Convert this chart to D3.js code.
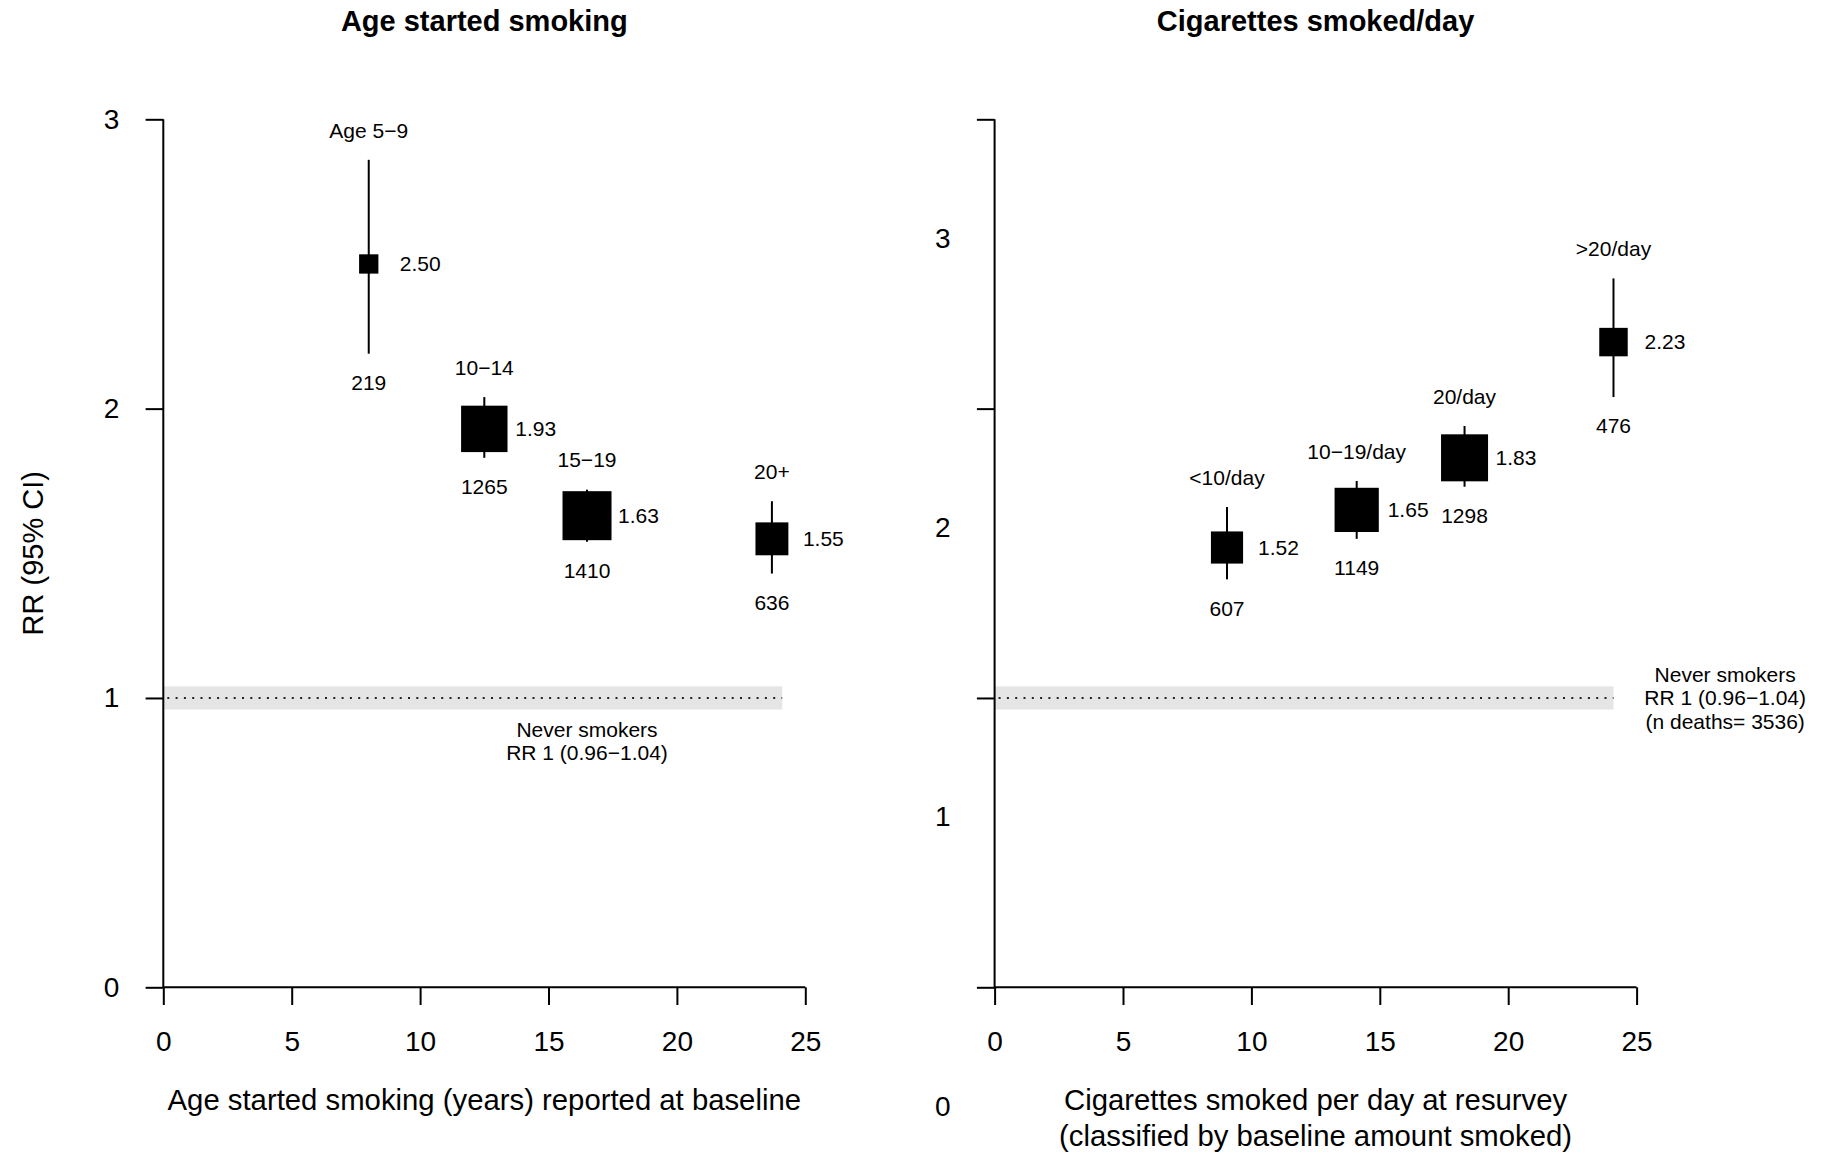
<!DOCTYPE html>
<html>
<head>
<meta charset="utf-8">
<script src="https://cdn.jsdelivr.net/npm/d3@7"></script>
<style>
  html, body { margin: 0; padding: 0; background: #fff; }
  svg { display: block; font-family: "Liberation Sans", Arial, Helvetica, sans-serif; }
</style>
</head>
<body>
<svg id="chart" width="1822" height="1154"></svg>
<script>
// Age started smoking (reported at baseline)
const ageGroups = ["Age 5−9", "10−14", "15−19", "20+"];
const ageX      = [8, 12.5, 16.5, 23.7];
const ageRR     = [2.50, 1.93, 1.63, 1.55];
const ageLo     = [2.19, 1.83, 1.54, 1.43];
const ageHi     = [2.86, 2.04, 1.72, 1.68];
const ageDeaths = [219, 1265, 1410, 636];

// Cigarettes smoked per day at resurvey
const cigGroups = ["<10/day", "10−19/day", "20/day", ">20/day"];
const cigX      = [9.05, 14.1, 18.3, 24.1];
const cigRR     = [1.52, 1.65, 1.83, 2.23];
const cigLo     = [1.41, 1.55, 1.73, 2.04];
const cigHi     = [1.66, 1.75, 1.94, 2.45];
const cigDeaths = [607, 1149, 1298, 476];

// Never-smoker reference group
const neverRR = 1, neverLo = 0.96, neverHi = 1.04, neverDeaths = 3536;
const neverXEnd = 24.1;

// Axes
const xTicks = [0, 5, 10, 15, 20, 25];
const yTicks = [0, 1, 2, 3];

const svg = d3.select("#chart");
const fmt2 = d3.format(".2f");

const plotTop = 119.3, plotBottom = 987.3, plotW = 642;
const y = d3.scaleLinear().domain([0, 3]).range([plotBottom, plotTop]);
const boxSize = d3.scaleSqrt().domain([0, 1410]).range([0, 49]);

function panel(opts) {
  const x = d3.scaleLinear().domain([0, 25]).range([opts.left, opts.left + plotW]);
  const g = svg.append("g");

  // title
  g.append("text")
    .attr("x", x(12.5)).attr("y", 21).attr("dy", "0.35em")
    .attr("text-anchor", "middle")
    .style("font-size", "29px").style("font-weight", "bold")
    .text(opts.title);

  // reference band for never smokers
  g.append("rect")
    .attr("x", x(0)).attr("width", x(neverXEnd) - x(0))
    .attr("y", y(neverHi)).attr("height", y(neverLo) - y(neverHi))
    .attr("fill", "#e5e5e5");
  g.append("line")
    .attr("x1", x(0) + 4).attr("x2", x(neverXEnd))
    .attr("y1", y(neverRR)).attr("y2", y(neverRR))
    .attr("stroke", "#222").attr("stroke-width", 2)
    .attr("stroke-dasharray", "2 6.3");

  // y axis: tick marks
  const yAxisG = g.append("g").attr("transform", `translate(${x(0)},0)`);
  yAxisG.call(d3.axisLeft(y).tickValues(yTicks).tickSize(17.7).tickFormat(""));
  // y axis tick labels (optionally shifted)
  const yLab = g.append("g").attr("transform", `translate(${x(0)},${opts.yLabelShift})`);
  yLab.call(d3.axisLeft(y).tickValues(yTicks).tickSize(0).tickPadding(44).tickFormat(d3.format("d")));
  yLab.select(".domain").remove();

  // x axis
  const xAxisG = g.append("g").attr("transform", `translate(0,${plotBottom})`);
  xAxisG.call(d3.axisBottom(x).tickValues(xTicks).tickSize(17.7).tickPadding(26).tickFormat(d3.format("d")));

  [yAxisG, yLab, xAxisG].forEach(a => {
    a.selectAll("path.domain").attr("stroke", "#000").attr("stroke-width", 2);
    a.selectAll(".tick line").attr("stroke", "#000").attr("stroke-width", 2);
    a.selectAll(".tick text").style("font-size", "28px").attr("fill", "#000")
      .style("font-family", "'Liberation Sans', Arial, Helvetica, sans-serif");
  });
  // clean outer tick stubs on the domains
  yAxisG.select(".domain").attr("d", `M0,${y(3)}V${y(0)}`);
  xAxisG.select(".domain").attr("d", `M${x(0)},0H${x(25)}`);

  // x axis title
  opts.xTitle.forEach((t, i) => {
    g.append("text")
      .attr("x", x(12.5)).attr("y", 1100 + i * 35.3).attr("dy", "0.35em")
      .attr("text-anchor", "middle").style("font-size", "29.3px")
      .text(t);
  });

  // estimates
  const rows = opts.groups.map((name, i) => ({
    name, x: opts.xs[i], rr: opts.rr[i], lo: opts.lo[i], hi: opts.hi[i], n: opts.deaths[i]
  }));
  const pt = g.selectAll("g.pt").data(rows).enter().append("g").attr("class", "pt");
  pt.append("line")
    .attr("x1", d => x(d.x)).attr("x2", d => x(d.x))
    .attr("y1", d => y(d.hi)).attr("y2", d => y(d.lo))
    .attr("stroke", "#000").attr("stroke-width", 2);
  pt.append("rect")
    .attr("x", d => x(d.x) - boxSize(d.n) / 2)
    .attr("y", d => y(d.rr) - boxSize(d.n) / 2)
    .attr("width", d => boxSize(d.n)).attr("height", d => boxSize(d.n))
    .attr("fill", "#000");
  pt.append("text")
    .attr("x", d => x(d.x) + 31).attr("y", d => y(d.rr)).attr("dy", "0.35em")
    .style("font-size", "21px").text(d => fmt2(d.rr));
  pt.append("text")
    .attr("x", d => x(d.x)).attr("y", d => y(d.hi) - 29.5).attr("dy", "0.35em")
    .attr("text-anchor", "middle").style("font-size", "21px").text(d => d.name);
  pt.append("text")
    .attr("x", d => x(d.x)).attr("y", d => y(d.lo) + 29).attr("dy", "0.35em")
    .attr("text-anchor", "middle").style("font-size", "21px").text(d => d.n);

  // never smokers note
  opts.note.lines.forEach((t, i) => {
    g.append("text")
      .attr("x", x(opts.note.x)).attr("y", opts.note.y + i * 23.5).attr("dy", "0.35em")
      .attr("text-anchor", "middle").style("font-size", "21px")
      .text(t);
  });
  return x;
}

const neverLine2 = `RR ${neverRR} (${neverLo}−${neverHi.toFixed(2)})`;

panel({
  left: 163.3,
  title: "Age started smoking",
  xTitle: ["Age started smoking (years) reported at baseline"],
  groups: ageGroups, xs: ageX, rr: ageRR, lo: ageLo, hi: ageHi, deaths: ageDeaths,
  yLabelShift: 0,
  note: { x: 16.5, y: y(neverLo) + 20, lines: ["Never smokers", neverLine2] }
});

panel({
  left: 994.6,
  title: "Cigarettes smoked/day",
  xTitle: ["Cigarettes smoked per day at resurvey", "(classified by baseline amount smoked)"],
  groups: cigGroups, xs: cigX, rr: cigRR, lo: cigLo, hi: cigHi, deaths: cigDeaths,
  yLabelShift: 119,
  note: { x: 28.45, y: y(neverRR) - 23.5, lines: ["Never smokers", neverLine2, `(n deaths= ${neverDeaths})`] }
});

// shared y axis title
svg.append("text")
  .attr("transform", `translate(32.5,${y(1.5)}) rotate(-90)`)
  .attr("dy", "0.35em").attr("text-anchor", "middle")
  .style("font-size", "29px")
  .text("RR (95% CI)");
</script>
</body>
</html>
